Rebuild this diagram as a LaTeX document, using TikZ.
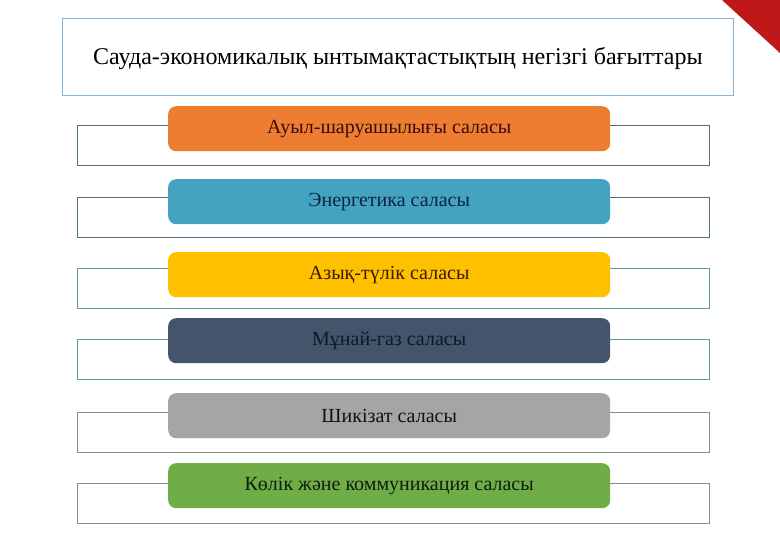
\documentclass[tikz,border=0pt]{standalone}
\usepackage{fontspec}
\setmainfont{Liberation Serif}
\definecolor{cOrange}{HTML}{ED7D31}
\definecolor{cBlue}{HTML}{43A3C0}
\definecolor{cYellow}{HTML}{FFC000}
\definecolor{cDark}{HTML}{44546A}
\definecolor{cGray}{HTML}{A5A5A5}
\definecolor{cGreen}{HTML}{70AD47}
\definecolor{lineA}{HTML}{4F6E86}
\definecolor{lineB}{HTML}{5C9C98}
\definecolor{lineC}{HTML}{7C9870}
\definecolor{titleLine}{HTML}{8DB3D2}
\definecolor{cRed}{HTML}{BE1818}
\definecolor{tA}{HTML}{3A0C0C}
\definecolor{tB}{HTML}{0F2340}
\definecolor{tC}{HTML}{3A1A00}
\definecolor{tD}{HTML}{101828}
\definecolor{tE}{HTML}{111111}
\definecolor{tF}{HTML}{0E1E0E}
\tikzset{
  frame/.style={draw=#1, line width=0.9pt, rectangle, inner sep=0pt, minimum width=632pt, minimum height=40pt, anchor=north west},
  bar/.style={fill=#1, rectangle, rounded corners=8pt, inner sep=0pt, minimum width=442pt, minimum height=45pt, anchor=north west, font=\fontsize{20}{24}\selectfont},
}
\begin{document}
\begin{tikzpicture}[x=1pt,y=-1pt]
\useasboundingbox (0,0) rectangle (780,540);
\fill[white] (0,0) rectangle (780,540);
\fill[cRed] (722,0) -- (780,0) -- (780,53) -- cycle;
\node[draw=titleLine, line width=0.8pt, rectangle, inner sep=0pt, minimum width=671pt, minimum height=77pt, anchor=north west] (title) at (62,18) {};
\node[font=\fontsize{24}{28}\selectfont, inner sep=0pt] (titletext) at ([yshift=-1.5pt]title.center) {Сауда-экономикалық ынтымақтастықтың негізгі бағыттары};
% frames
\node[frame=lineA] (f1) at (77,125) {};
\node[frame=lineA] (f2) at (77,197) {};
\node[frame=lineB] (f3) at (77,268) {};
\node[frame=lineB] (f4) at (77,339) {};
\node[frame=lineC] (f5) at (77,412) {};
\node[frame=lineC] (f6) at (77,483) {};
% bars
\node[bar=cOrange, text=tA] (b1) at (168,106) {Ауыл-шаруашылығы саласы};
\node[bar=cBlue, text=tB] (b2) at (168,179) {Энергетика саласы};
\node[bar=cYellow, text=tC] (b3) at (168,252) {Азық-түлік саласы};
\node[bar=cDark, text=tD] (b4) at (168,318) {Мұнай-газ саласы};
\node[bar=cGray, text=tE] (b5) at (168,393) {Шикізат саласы};
\node[bar=cGreen, text=tF] (b6) at (168,463) {Көлік және коммуникация саласы};
\end{tikzpicture}
\end{document}
